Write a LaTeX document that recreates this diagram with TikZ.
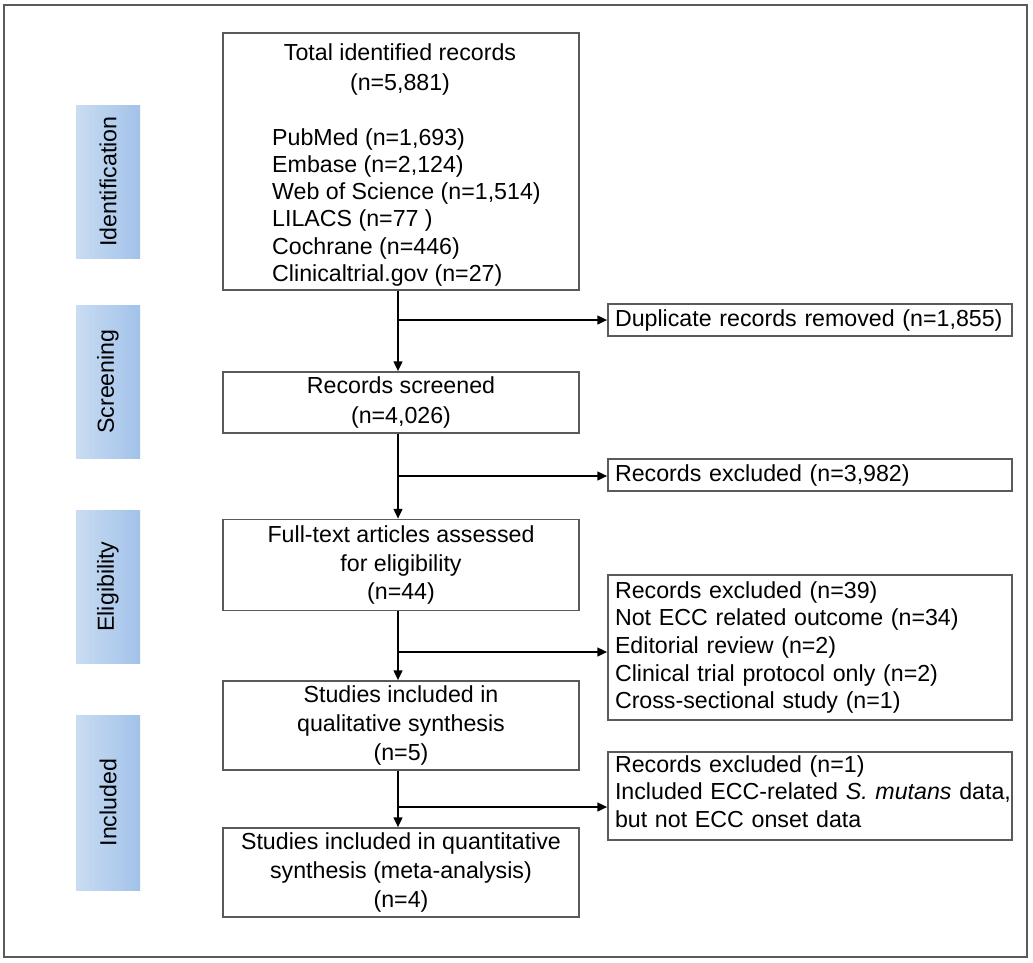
\documentclass[tikz,border=0pt]{standalone}
\usepackage{fontspec}
\setmainfont{Liberation Sans}
\usetikzlibrary{arrows.meta}
\definecolor{boxgray}{HTML}{5A5A5A}
\definecolor{sidelight}{HTML}{C9DCF2}
\definecolor{sidedark}{HTML}{A2C2EA}
\begin{document}
\begin{tikzpicture}[x=1pt,y=-1pt,
  every node/.style={font=\fontsize{23.2}{27.7}\selectfont},
  mainbox/.style={draw=boxgray, line width=1.3pt, minimum width=356pt, align=center, inner sep=2pt,
    font=\fontsize{23.2}{28.6}\selectfont},
  txt/.style={inner sep=0pt},
  sidebox/.style={draw=none, minimum width=64pt, left color=sidelight, right color=sidedark, inner sep=0pt},
  rightbox/.style={draw=boxgray, line width=1.3pt, minimum width=404pt, text width=390pt, align=left, inner xsep=7pt, inner ysep=2pt},
  arr/.style={line width=2.9pt, -{Triangle[length=10pt,width=8.5pt]}},
  frame/.style={draw=boxgray, line width=1.5pt}
]
\useasboundingbox (0,0) rectangle (1033,962);
\draw[frame] (4,5) rectangle (1027,957);

% side labels
\node[sidebox, minimum height=153pt] (ident) at (108,181.5) {\rotatebox{90}{Identification}};
\node[sidebox, minimum height=153pt] (screen) at (108,381.5) {\rotatebox{90}{Screening}};
\node[sidebox, minimum height=153pt] (elig) at (108,586.5) {\rotatebox{90}{Eligibility}};
\node[sidebox, minimum height=175pt] (incl) at (108,802.5) {\rotatebox{90}{Included}};

% main boxes
\node[mainbox, minimum height=257pt] (total) at (401,161.5) {};
\node[txt, align=center, anchor=north, font=\fontsize{23.2}{29.5}\selectfont] (totaltitle) at (400,43.5) {Total identified records\\(n=5,881)};
\node[txt, align=left, anchor=north west, font=\fontsize{23.2}{27.3}\selectfont] (totallist) at (272,128) {PubMed (n=1,693)\\Embase (n=2,124)\\Web of Science (n=1,514)\\LILACS (n=77 )\\Cochrane (n=446)\\Clinicaltrial.gov (n=27)};
\node[mainbox, minimum height=61pt, font=\fontsize{23.2}{29.5}\selectfont] (screened) at (401,402.5) {Records screened\\(n=4,026)};
\node[mainbox, minimum height=91pt] (full) at (401,565) {Full-text articles assessed\\for eligibility\\(n=44)};
\node[mainbox, minimum height=89pt] (qual) at (401,725.5) {Studies included in\\qualitative synthesis\\(n=5)};
\node[mainbox, minimum height=89pt] (quant) at (401,872.5) {Studies included in quantitative\\synthesis (meta-analysis)\\(n=4)};

% right boxes
\node[rightbox, minimum height=32pt] (dup) at (810,320) {Duplicate records removed (n=1,855)};
\node[rightbox, minimum height=32pt] (ex1) at (810,475) {Records excluded (n=3,982)};
\node[rightbox, minimum height=145pt] (ex2) at (810,647.5) {Records excluded (n=39)\\Not ECC related outcome (n=34)\\Editorial review (n=2)\\Clinical trial protocol only (n=2)\\Cross-sectional study (n=1)};
\node[rightbox, minimum height=88pt] (ex3) at (810,796) {Records excluded (n=1)\\\mbox{Included ECC-related \textit{S. mutans} data,}\\but not ECC onset data\rule[-9pt]{0pt}{0pt}};

% connectors
\coordinate (vx) at (398,0);
\draw[arr] (total.south -| vx) -- (screened.north -| vx);
\draw[arr] (screened.south -| vx) -- (full.north -| vx);
\draw[arr] (full.south -| vx) -- (qual.north -| vx);
\draw[arr] (qual.south -| vx) -- (quant.north -| vx);

\coordinate (b1) at (398,320);
\coordinate (b2) at (398,476);
\coordinate (b3) at (398,652);
\coordinate (b4) at (398,807);
\draw[arr] (b1) -- (b1 -| dup.west);
\draw[arr] (b2) -- (b2 -| ex1.west);
\draw[arr] (b3) -- (b3 -| ex2.west);
\draw[arr] (b4) -- (b4 -| ex3.west);
\end{tikzpicture}
\end{document}
